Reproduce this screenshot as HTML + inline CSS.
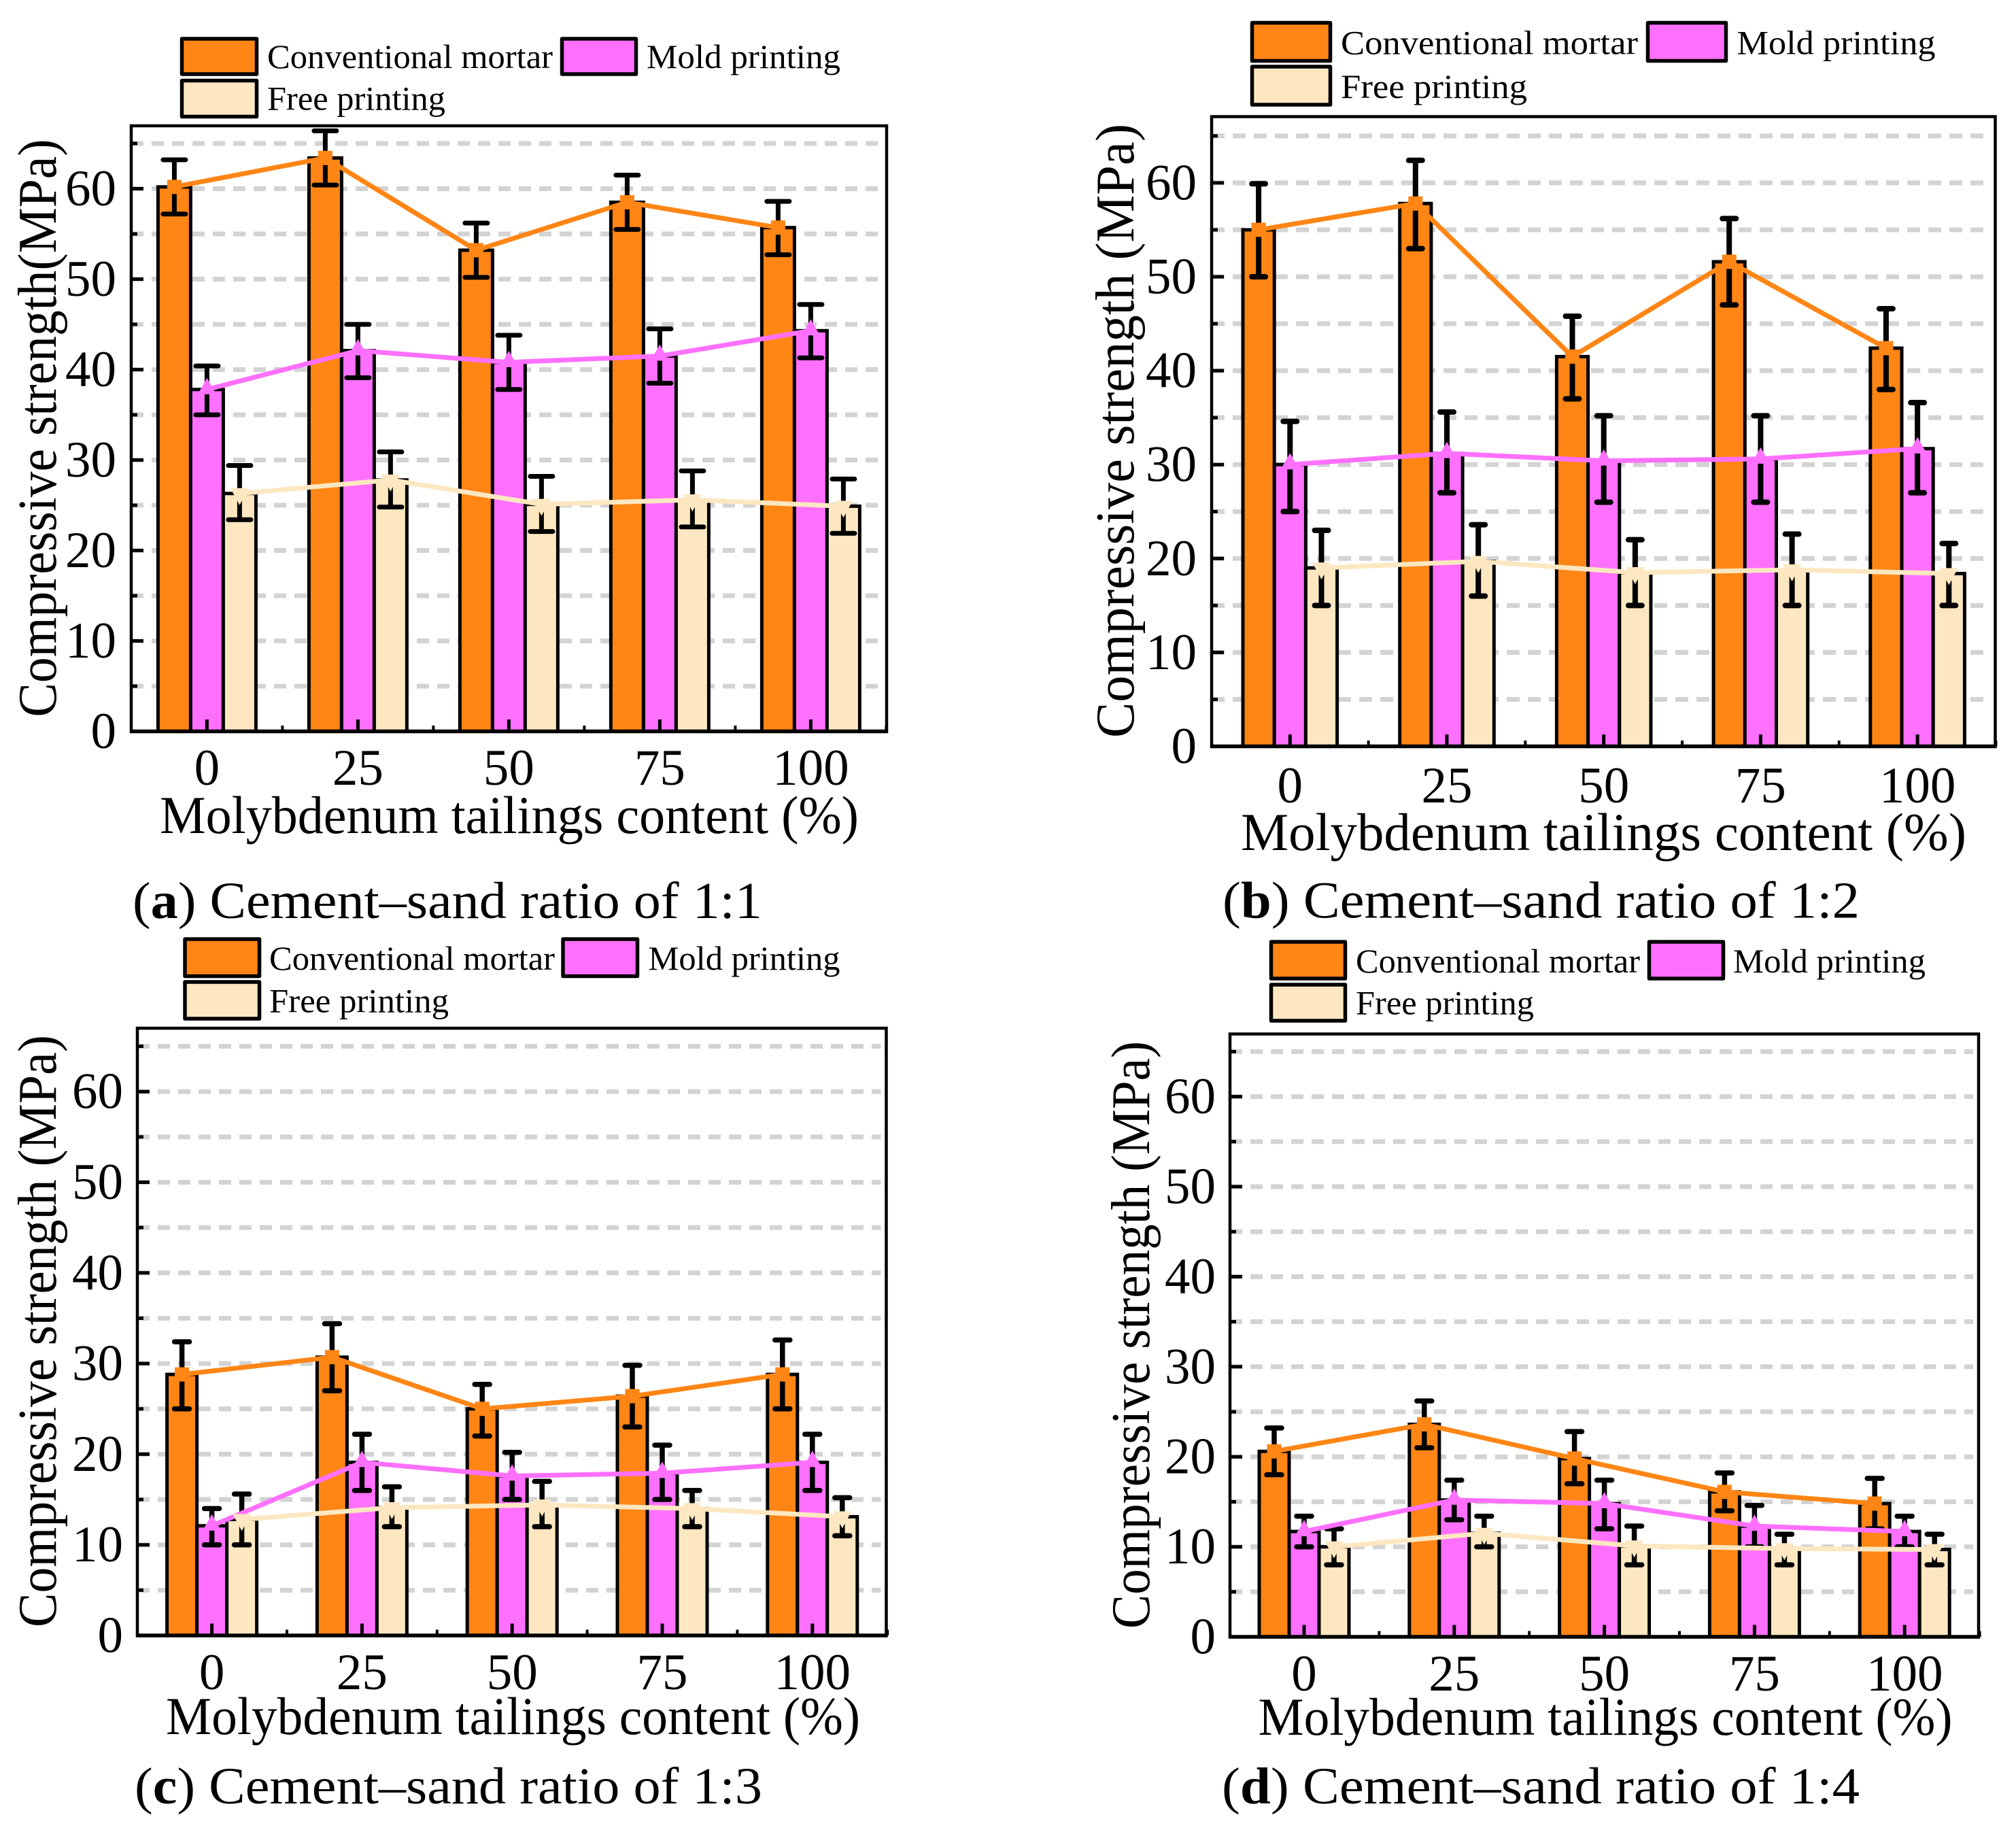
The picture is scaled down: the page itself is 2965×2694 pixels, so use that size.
<!DOCTYPE html>
<html lang="en">
<head>
<meta charset="utf-8">
<title>Compressive strength by molybdenum tailings content</title>
<style>
html,body{margin:0;padding:0;background:#fff;}
svg{display:block;}
text{font-family:"Liberation Serif",serif;fill:#000;}
.legend-text{font-size:50px;}
.axis-title{font-size:78px;}
.y-title{font-size:80px;}
.caption{font-size:76px;}
.tick-text{font-size:75px;}
.swatch{stroke:#000;stroke-width:5.5;stroke-linejoin:round;}
</style>
</head>
<body>
<svg id="figure" xmlns="http://www.w3.org/2000/svg" width="2965" height="2694" viewBox="0 0 2965 2694">
  <rect x="0" y="0" width="2965" height="2694" fill="#fff"/>

  <g id="panel-a"><g id="plot-a"></g>
    <g>
      <rect class="swatch" x="267.5" y="57" width="110" height="52" fill="#ff8515"/>
      <text class="legend-text" x="393" y="100" textLength="420" lengthAdjust="spacingAndGlyphs">Conventional mortar</text>
      <rect class="swatch" x="826.5" y="57" width="109" height="52" fill="#ff70ff"/>
      <text class="legend-text" x="951" y="100" textLength="285" lengthAdjust="spacingAndGlyphs">Mold printing</text>
      <rect class="swatch" x="267.5" y="118.5" width="110" height="53" fill="#fde7c1"/>
      <text class="legend-text" x="393" y="161.5" textLength="262" lengthAdjust="spacingAndGlyphs">Free printing</text>
    </g>
    <text class="y-title" transform="translate(82,1054.5) rotate(-90)" textLength="850" lengthAdjust="spacingAndGlyphs">Compressive strength(MPa)</text>
    <text class="axis-title" x="235" y="1225" textLength="1028" lengthAdjust="spacingAndGlyphs">Molybdenum tailings content (%)</text>
    <text class="caption" x="195" y="1350" textLength="926" lengthAdjust="spacingAndGlyphs">(<tspan font-weight="bold">a</tspan>) Cement–sand ratio of 1:1</text>
  </g>

  <g id="panel-b"><g id="plot-b"></g>
    <g>
      <rect class="swatch" x="1841.5" y="33.5" width="115" height="56" fill="#ff8515"/>
      <text class="legend-text" x="1972" y="79.5" textLength="437" lengthAdjust="spacingAndGlyphs">Conventional mortar</text>
      <rect class="swatch" x="2423.5" y="33.5" width="115" height="56" fill="#ff70ff"/>
      <text class="legend-text" x="2554.5" y="79.5" textLength="292" lengthAdjust="spacingAndGlyphs">Mold printing</text>
      <rect class="swatch" x="1841.5" y="98" width="115" height="56" fill="#fde7c1"/>
      <text class="legend-text" x="1972" y="143.8" textLength="274" lengthAdjust="spacingAndGlyphs">Free printing</text>
    </g>
    <text class="y-title" transform="translate(1667,1085) rotate(-90)" textLength="903" lengthAdjust="spacingAndGlyphs">Compressive strength (MPa)</text>
    <text class="axis-title" x="1825" y="1250" textLength="1067" lengthAdjust="spacingAndGlyphs">Molybdenum tailings content (%)</text>
    <text class="caption" x="1798" y="1349.5" textLength="937" lengthAdjust="spacingAndGlyphs">(<tspan font-weight="bold">b</tspan>) Cement–sand ratio of 1:2</text>
  </g>

  <g id="panel-c"><g id="plot-c"></g>
    <g>
      <rect class="swatch" x="272" y="1381" width="109.5" height="54.5" fill="#ff8515"/>
      <text class="legend-text" x="396" y="1426" textLength="420" lengthAdjust="spacingAndGlyphs">Conventional mortar</text>
      <rect class="swatch" x="828" y="1381" width="109.5" height="54.5" fill="#ff70ff"/>
      <text class="legend-text" x="953.5" y="1426" textLength="282" lengthAdjust="spacingAndGlyphs">Mold printing</text>
      <rect class="swatch" x="272" y="1444" width="109.5" height="54" fill="#fde7c1"/>
      <text class="legend-text" x="396" y="1488.5" textLength="264" lengthAdjust="spacingAndGlyphs">Free printing</text>
    </g>
    <text class="y-title" transform="translate(82,2393) rotate(-90)" textLength="871" lengthAdjust="spacingAndGlyphs">Compressive strength (MPa)</text>
    <text class="axis-title" x="244" y="2550" textLength="1021" lengthAdjust="spacingAndGlyphs">Molybdenum tailings content (%)</text>
    <text class="caption" x="198" y="2652" textLength="923" lengthAdjust="spacingAndGlyphs">(<tspan font-weight="bold">c</tspan>) Cement–sand ratio of 1:3</text>
  </g>

  <g id="panel-d"><g id="plot-d"></g>
    <g>
      <rect class="swatch" x="1869.5" y="1385" width="109" height="54" fill="#ff8515"/>
      <text class="legend-text" x="1994" y="1430" textLength="418" lengthAdjust="spacingAndGlyphs">Conventional mortar</text>
      <rect class="swatch" x="2425.5" y="1385" width="109" height="54" fill="#ff70ff"/>
      <text class="legend-text" x="2549" y="1430" textLength="283" lengthAdjust="spacingAndGlyphs">Mold printing</text>
      <rect class="swatch" x="1869.5" y="1448" width="109" height="53" fill="#fde7c1"/>
      <text class="legend-text" x="1994" y="1491.5" textLength="262" lengthAdjust="spacingAndGlyphs">Free printing</text>
    </g>
    <text class="y-title" transform="translate(1690,2395) rotate(-90)" textLength="864" lengthAdjust="spacingAndGlyphs">Compressive strength (MPa)</text>
    <text class="axis-title" x="1850.5" y="2551" textLength="1021" lengthAdjust="spacingAndGlyphs">Molybdenum tailings content (%)</text>
    <text class="caption" x="1797" y="2652" textLength="938" lengthAdjust="spacingAndGlyphs">(<tspan font-weight="bold">d</tspan>) Cement–sand ratio of 1:4</text>
  </g>
</svg>

<script>
// Shared axis data
const categories = ['0', '25', '50', '75', '100'];
const yTickLabels = ['0', '10', '20', '30', '40', '50', '60'];
const yTickValues = [0, 10, 20, 30, 40, 50, 60];
const yGridValues = [5, 10, 15, 20, 25, 30, 35, 40, 45, 50, 55, 60, 65];

// Panel (a) Cement-sand ratio 1:1
const convA = [60.2, 63.4, 53.2, 58.5, 55.7];
const convHighA = [63.2, 66.4, 56.2, 61.5, 58.6];
const convLowA = [57.2, 60.4, 50.2, 55.5, 52.7];
const moldA = [37.8, 42.1, 40.8, 41.5, 44.3];
const moldHighA = [40.4, 45.0, 43.8, 44.5, 47.2];
const moldLowA = [35.0, 39.1, 37.8, 38.5, 41.3];
const freeA = [26.3, 27.8, 25.1, 25.6, 24.9];
const freeHighA = [29.4, 30.9, 28.2, 28.8, 27.9];
const freeLowA = [23.4, 24.8, 22.1, 22.6, 21.9];

// Panel (b) Cement-sand ratio 1:2
const convB = [55.0, 57.8, 41.5, 51.6, 42.4];
const convHighB = [59.9, 62.4, 45.8, 56.2, 46.6];
const convLowB = [50.0, 53.0, 37.0, 47.0, 38.0];
const moldB = [30.0, 31.2, 30.4, 30.6, 31.7];
const moldHighB = [34.6, 35.6, 35.2, 35.2, 36.6];
const moldLowB = [25.0, 27.0, 26.0, 26.0, 27.0];
const freeB = [19.0, 19.7, 18.5, 18.8, 18.4];
const freeHighB = [23.0, 23.6, 22.0, 22.6, 21.6];
const freeLowB = [15.0, 16.0, 15.0, 15.0, 15.0];

// Panel (c) Cement-sand ratio 1:3
const convC = [28.8, 30.7, 25.0, 26.4, 28.8];
const convHighC = [32.4, 34.4, 27.7, 29.8, 32.6];
const convLowC = [25.0, 27.0, 22.0, 23.0, 25.0];
const moldC = [12.1, 19.1, 17.6, 17.9, 19.1];
const moldHighC = [14.0, 22.2, 20.2, 21.0, 22.2];
const moldLowC = [10.0, 16.0, 15.0, 15.0, 16.0];
const freeC = [12.8, 14.1, 14.4, 14.0, 13.1];
const freeHighC = [15.6, 16.4, 17.0, 16.0, 15.2];
const freeLowC = [10.0, 12.0, 12.0, 12.0, 11.0];

// Panel (d) Cement-sand ratio 1:4
const convD = [20.6, 23.6, 19.8, 16.1, 14.8];
const convHighD = [23.2, 26.2, 22.8, 18.2, 17.6];
const convLowD = [18.0, 21.0, 17.0, 14.0, 12.0];
const moldD = [11.7, 15.2, 14.8, 12.3, 11.7];
const moldHighD = [13.4, 17.4, 17.4, 14.6, 13.4];
const moldLowD = [10.0, 13.0, 12.0, 10.0, 10.0];
const freeD = [10.0, 11.5, 10.1, 9.8, 9.7];
const freeHighD = [12.0, 13.4, 12.3, 11.4, 11.4];
const freeLowD = [8.0, 10.0, 8.0, 8.0, 8.0];

const seriesNames = ['conventional', 'mold', 'free'];
const seriesColors = ['#ff8515', '#ff70ff', '#fde7c1'];

const panels = [
  { id: 'a', left: 193, right: 1304, top: 185, bottom: 1075.5, unit: 13.3, firstX: 304.4, stepX: 222, barW: 48, yLabelRight: 171, xLabelY: 1154, errW: 7, capHalf: 16.5, dash: 18,
    values: [convA, moldA, freeA], highs: [convHighA, moldHighA, freeHighA], lows: [convLowA, moldLowA, freeLowA] },
  { id: 'b', left: 1782, right: 2934.5, top: 171.5, bottom: 1097.5, unit: 13.81, firstX: 1897.3, stepX: 230.7, barW: 46.2, yLabelRight: 1760, xLabelY: 1180, errW: 8, capHalf: 10, dash: 19,
    values: [convB, moldB, freeB], highs: [convHighB, moldHighB, freeHighB], lows: [convLowB, moldLowB, freeLowB] },
  { id: 'c', left: 202, right: 1303.5, top: 1512, bottom: 2405, unit: 13.33, firstX: 311.6, stepX: 220.8, barW: 44, yLabelRight: 181, xLabelY: 2484, errW: 7.5, capHalf: 11, dash: 18,
    values: [convC, moldC, freeC], highs: [convHighC, moldHighC, freeHighC], lows: [convLowC, moldLowC, freeLowC] },
  { id: 'd', left: 1809, right: 2910, top: 1520.5, bottom: 2407, unit: 13.24, firstX: 1918, stepX: 220.8, barW: 44, yLabelRight: 1788, xLabelY: 2486, errW: 7.5, capHalf: 11, dash: 18,
    values: [convD, moldD, freeD], highs: [convHighD, moldHighD, freeHighD], lows: [convLowD, moldLowD, freeLowD] }
];

const SVG_NS = 'http://www.w3.org/2000/svg';

function make(tag, attrs, parent) {
  const el = document.createElementNS(SVG_NS, tag);
  Object.keys(attrs).forEach(function (k) { el.setAttribute(k, attrs[k]); });
  parent.appendChild(el);
  return el;
}

function yScale(p, v) { return p.bottom - v * p.unit; }
function xGroup(p, i) { return p.firstX + i * p.stepX; }
function xSeries(p, i, s) { return xGroup(p, i) + (s - 1) * p.barW; }

function drawPanel(p) {
  const g = document.getElementById('plot-' + p.id);

  // Grid lines
  yGridValues.forEach(function (v) {
    const y = yScale(p, v);
    const grid = make('line', { x1: p.left, x2: p.right - 8, y1: y, y2: y, stroke: '#d3d3d3', 'stroke-width': 7, 'stroke-dasharray': p.dash + ' 12' }, g);
    
    
  });

  // Bars
  p.values.forEach(function (vals, s) {
    vals.forEach(function (v, i) {
      const cx = xSeries(p, i, s);
      const y = yScale(p, v);
      const bar = make('rect', { x: cx - p.barW / 2, y: y, width: p.barW, height: p.bottom - y, fill: seriesColors[s], stroke: '#000', 'stroke-width': 5 }, g);
      
      
    });
  });

  // X ticks
  categories.forEach(function (label, i) {
    const x = xGroup(p, i);
    const tick = make('line', { x1: x, x2: x, y1: p.bottom, y2: p.bottom - 17.5, stroke: '#000', 'stroke-width': 5 }, g);
    
    
    const minor = make('line', { x1: x + p.stepX / 2, x2: x + p.stepX / 2, y1: p.bottom, y2: p.bottom - 8.5, stroke: '#000', 'stroke-width': 4 }, g);
    
    
    const text = make('text', { x: x, y: p.xLabelY, 'text-anchor': 'middle', class: 'tick-text' }, g);
    text.textContent = label;
    
    
  });

  // Y ticks
  yGridValues.forEach(function (v) {
    const major = v % 10 === 0;
    const y = yScale(p, v);
    const tick = make('line', { x1: p.left, x2: p.left + (major ? 18 : 9), y1: y, y2: y, stroke: '#000', 'stroke-width': 5 }, g);
    
    
  });
  yTickValues.forEach(function (v, i) {
    const text = make('text', { x: p.yLabelRight, y: yScale(p, v) + 24.5, 'text-anchor': 'end', class: 'tick-text' }, g);
    text.textContent = yTickLabels[i];
    
    
  });

  // Error bars
  p.values.forEach(function (vals, s) {
    vals.forEach(function (v, i) {
      const cx = xSeries(p, i, s);
      const hi = yScale(p, p.highs[s][i]);
      const lo = yScale(p, p.lows[s][i]);
      const err = make('path', { d: 'M' + cx + ' ' + hi + 'V' + lo + 'M' + (cx - p.capHalf) + ' ' + hi + 'H' + (cx + p.capHalf) + 'M' + (cx - p.capHalf) + ' ' + lo + 'H' + (cx + p.capHalf), fill: 'none', stroke: '#000', 'stroke-width': p.errW, 'stroke-linecap': 'round' }, g);
      
      
    });
  });

  // Lines and markers
  p.values.forEach(function (vals, s) {
    const pts = vals.map(function (v, i) { return xSeries(p, i, s) + ',' + yScale(p, v); }).join(' ');
    const line = make('polyline', { points: pts, fill: 'none', stroke: seriesColors[s], 'stroke-width': 7 }, g);
    
    
    vals.forEach(function (v, i) {
      const cx = xSeries(p, i, s);
      const cy = yScale(p, v);
      let marker;
      if (s === 0) {
        marker = make('rect', { x: cx - 10.5, y: cy - 10.5, width: 21, height: 21, fill: seriesColors[s] }, g);
      } else if (s === 1) {
        marker = make('polygon', { points: (cx - 13.5) + ',' + (cy + 7) + ' ' + (cx + 13.5) + ',' + (cy + 7) + ' ' + cx + ',' + (cy - 17), fill: seriesColors[s] }, g);
      } else {
        marker = make('polygon', { points: (cx - 13.5) + ',' + (cy - 8) + ' ' + (cx + 13.5) + ',' + (cy - 8) + ' ' + cx + ',' + (cy + 17), fill: seriesColors[s] }, g);
      }
      
      
    });
  });

  // Axes frame
  const frame = make('rect', { x: p.left, y: p.top, width: p.right - p.left, height: p.bottom - p.top, fill: 'none', stroke: '#000', 'stroke-width': 4.5 }, g);
  
  
  const xAxis = make('line', { x1: p.left - 2, x2: p.right + 2, y1: p.bottom, y2: p.bottom, stroke: '#000', 'stroke-width': 5.5 }, g);
  
  
}

panels.forEach(drawPanel);
</script>
</body>
</html>
